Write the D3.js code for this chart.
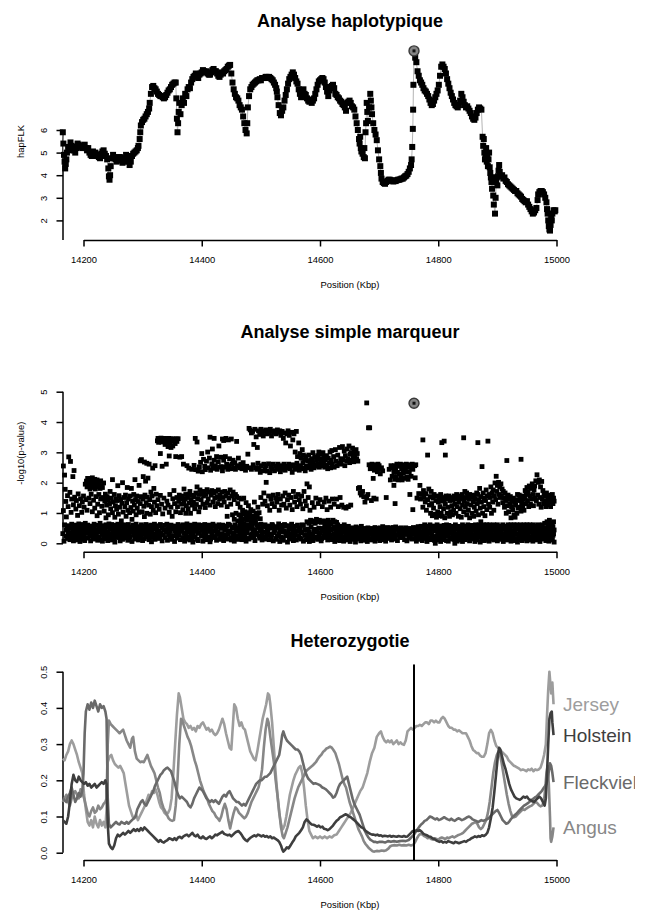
<!DOCTYPE html>
<html>
<head>
<meta charset="utf-8">
<title>hapFLK BTA</title>
<script src="https://cdn.jsdelivr.net/npm/d3@7"></script>
<style>
body { margin: 0; background: #fff; }
</style>
</head>
<body>
<div id="figure"></div>
<script>
var titres = ["Analyse haplotypique", "Analyse simple marqueur", "Heterozygotie"];
var positionTicks = [14200, 14400, 14600, 14800, 15000];
var hapTicks = [2, 3, 4, 5, 6];
var pvalTicks = [0, 1, 2, 3, 4, 5];
var hetTicks = [0, 0.1, 0.2, 0.3, 0.4, 0.5];
var races = ["Jersey", "Holstein", "Fleckvieh", "Angus"];
var couleurs = ["#9d9d9d", "#3e3e3e", "#6a6a6a", "#878787"];
var picPos = 14759; // marqueur le plus significatif

// hapFLK [position Kbp, valeur]
var hapflk = [
[14165,5.9],[14166,5.4],[14167,4.9],[14168,4.6],[14169,4.3],[14170,4.5],[14171,4.7],[14172,5.0],[14174,5.25],[14176,5.1],[14178,5.45],[14180,5.3],[14182,5.25],[14184,5.1],[14186,5.0],[14188,5.2],[14190,5.4],[14192,5.35],[14194,5.25],[14196,5.3],[14198,5.2],
[14200,5.25],[14202,5.35],[14204,5.2],[14206,5.1],[14208,5.2],[14210,5.0],[14212,4.9],[14214,4.85],[14216,5.05],[14218,4.95],[14220,5.0],[14222,4.85],[14224,4.9],[14226,4.8],[14228,4.75],[14230,4.95],[14232,5.05],[14234,5.1],[14236,4.95],[14238,4.85],[14240,4.7],[14242,4.3],[14243,3.95],[14244,3.8],[14245,4.0],[14246,4.4],[14248,4.75],
[14250,4.9],[14252,4.8],[14254,4.7],[14256,4.6],[14258,4.7],[14260,4.8],[14262,4.8],[14264,4.65],[14266,4.55],[14268,4.6],[14270,4.75],[14272,4.9],[14274,4.8],[14276,4.6],[14278,4.45],[14280,4.6],[14282,4.85],[14284,4.95],[14286,5.0],[14288,5.05],[14290,5.1],[14292,5.2],[14293,5.3],[14295,5.6],[14296,5.9],[14297,6.2],[14299,6.35],
[14301,6.45],[14303,6.5],[14305,6.6],[14307,6.7],[14309,6.8],[14311,6.95],[14312,7.2],[14314,7.6],[14316,7.9],[14318,7.95],[14320,7.85],[14322,7.8],[14324,7.7],[14326,7.6],[14328,7.55],[14330,7.5],[14332,7.5],[14334,7.45],[14336,7.4],[14338,7.45],[14340,7.55],[14342,7.65],[14344,7.75],[14346,7.8],[14348,7.9],
[14350,8.0],[14352,8.05],[14354,8.1],[14356,8.1],[14357,7.4],[14358,6.5],[14359,5.9],[14360,6.3],[14361,6.8],[14362,7.2],[14364,6.7],[14366,7.1],[14368,7.4],[14370,7.2],[14372,7.6],[14374,7.5],[14376,7.8],[14378,7.9],[14380,7.85],[14382,8.1],[14384,8.25],[14386,8.35],[14388,8.4],[14390,8.5],[14392,8.4],[14394,8.3],[14396,8.45],[14398,8.5],
[14400,8.55],[14402,8.65],[14404,8.6],[14406,8.55],[14408,8.6],[14410,8.5],[14412,8.45],[14414,8.45],[14416,8.55],[14418,8.65],[14420,8.7],[14422,8.6],[14424,8.6],[14426,8.5],[14428,8.4],[14430,8.35],[14432,8.45],[14434,8.55],[14436,8.5],[14438,8.6],[14440,8.65],[14442,8.7],[14444,8.8],[14446,8.85],[14448,8.88],
[14450,8.5],[14452,8.1],[14454,7.8],[14456,7.6],[14458,7.45],[14460,7.4],[14462,7.3],[14464,7.1],[14466,7.0],[14468,6.9],[14470,6.6],[14472,6.3],[14474,6.0],[14476,5.85],[14477,6.3],[14478,7.0],[14480,7.5],[14482,7.8],[14484,7.9],[14486,8.0],[14488,8.05],[14490,8.1],[14492,8.15],[14494,8.2],[14496,8.2],[14498,8.25],
[14500,8.2],[14502,8.3],[14504,8.3],[14506,8.3],[14508,8.35],[14510,8.35],[14512,8.3],[14514,8.35],[14516,8.3],[14518,8.25],[14520,8.2],[14522,8.1],[14524,8.0],[14526,7.85],[14527,7.7],[14528,7.45],[14530,7.1],[14532,6.75],[14534,6.65],[14536,6.85],[14538,7.0],[14540,7.3],[14542,7.55],[14544,7.8],[14546,8.05],[14548,8.25],
[14550,8.35],[14552,8.45],[14554,8.55],[14556,8.45],[14558,8.3],[14560,8.15],[14562,8.05],[14564,7.8],[14566,7.6],[14568,7.45],[14570,7.7],[14572,7.8],[14574,7.6],[14576,7.55],[14578,7.4],[14580,7.3],[14582,7.25],[14584,7.35],[14586,7.2],[14588,7.3],[14590,7.4],[14592,7.6],[14594,7.8],[14596,8.0],[14598,8.15],
[14600,8.2],[14602,8.25],[14604,8.3],[14606,8.25],[14608,8.1],[14610,7.9],[14612,7.7],[14614,7.5],[14616,7.75],[14618,7.9],[14620,7.95],[14622,8.0],[14624,7.85],[14626,7.6],[14628,7.55],[14630,7.45],[14632,7.4],[14634,7.3],[14636,7.25],[14638,7.15],[14640,7.1],[14642,7.0],[14644,6.85],[14646,7.2],[14648,7.25],
[14650,7.3],[14652,7.2],[14654,7.05],[14656,7.0],[14658,6.9],[14660,6.6],[14662,6.3],[14664,6.0],[14666,5.6],[14667,5.4],[14668,5.7],[14669,5.2],[14670,5.05],[14672,4.95],[14674,4.8],[14675,5.2],[14676,4.75],[14677,5.9],[14678,6.3],[14679,7.2],[14680,6.8],[14681,6.4],[14683,7.0],[14685,7.6],[14686,7.3],[14687,7.0],[14688,6.7],
[14690,6.3],[14692,6.0],[14694,5.8],[14696,5.55],[14698,5.1],[14700,4.7],[14702,4.4],[14703,4.1],[14704,3.85],[14706,3.7],[14708,3.65],[14710,3.62],[14712,3.7],[14714,3.75],[14716,3.8],[14718,3.8],[14720,3.78],[14722,3.75],[14724,3.72],[14726,3.75],[14728,3.74],[14730,3.78],[14732,3.8],[14734,3.8],[14736,3.82],[14738,3.85],
[14740,3.85],[14742,3.9],[14744,3.95],[14746,3.98],[14748,4.05],[14750,4.15],[14752,4.3],[14754,4.45],[14755,4.7],[14756,5.25],[14757,6.05],[14757.5,6.9],[14758,8.0],[14759,9.5],[14761,9.2],[14763,9.0],[14765,8.6],[14767,8.4],[14769,8.2],[14771,8.1],[14773,8.0],[14775,7.85],[14777,7.75],[14779,7.7],
[14781,7.6],[14783,7.5],[14785,7.35],[14787,7.2],[14789,7.1],[14791,7.15],[14793,7.3],[14795,7.45],[14797,7.6],[14799,7.75],[14801,8.0],[14803,8.4],[14805,8.8],[14807,8.9],[14809,8.8],[14811,8.7],[14813,8.5],[14815,8.25],[14817,8.05],[14819,7.85],[14821,7.65],[14823,7.5],[14825,7.35],[14827,7.2],[14829,7.1],
[14831,7.05],[14833,7.0],[14835,7.1],[14837,7.3],[14839,7.6],[14841,7.45],[14843,7.25],[14845,7.1],[14847,7.0],[14849,7.05],[14851,6.95],[14853,6.85],[14855,6.75],[14857,6.6],[14859,6.5],[14861,6.45],[14863,6.55],[14865,6.75],[14867,6.9],[14869,7.0],[14871,6.95],[14873,6.9],[14875,5.7],[14876,5.3],[14877,5.6],
[14878,5.0],[14879,4.7],[14880,4.85],[14881,5.2],[14882,4.6],[14883,4.9],[14884,4.4],[14885,4.7],[14886,5.0],[14887,4.35],[14888,4.1],[14889,3.9],[14890,3.7],[14891,3.4],[14892,3.9],[14893,3.1],[14894,2.7],[14896,2.3],[14897,3.0],[14898,3.7],[14899,3.9],[14900,3.55],[14901,3.95],[14902,4.2],[14903,4.45],[14904,4.15],
[14906,3.95],[14908,4.0],[14910,3.85],[14912,3.9],[14914,3.75],[14916,3.7],[14918,3.6],[14920,3.55],[14922,3.5],[14924,3.45],[14926,3.4],[14928,3.35],[14930,3.3],[14932,3.3],[14934,3.2],[14936,3.15],[14938,3.1],[14940,3.05],[14942,2.95],[14944,2.9],[14946,2.85],[14948,2.8],[14950,2.85],[14952,2.7],[14954,2.6],
[14956,2.5],[14958,2.4],[14960,2.3],[14962,2.35],[14964,2.45],[14966,2.55],[14968,2.9],[14969,3.15],[14971,3.25],[14973,3.3],[14975,3.3],[14977,3.25],[14979,3.15],[14981,3.0],[14983,2.8],[14984,2.5],[14985,2.3],[14986,2.0],[14987,1.75],[14988,1.6],[14989,1.55],[14990,1.8],[14991,2.1],[14992,2.0],[14993,2.3],[14995,2.45],[14997,2.4],[14998,2.45]
];

// -log10(p) par SNP [position Kbp, valeur]
var marqueurs = [
[14165,0.32],[14166,2.55],[14166,1.08],[14167,0.07],[14168,2.25],[14168,0.61],[14169,1.78],[14170,1.38],[14170,0.23],[14171,0.87],[14171,0.44],[14172,0.52],[14173,1.57],[14173,0.16],[14174,0.38],[14174,1.21],
[14175,2.85],[14175,0.58],[14176,0.27],[14177,1.68],[14177,0.12],[14178,2.7],[14178,0.49],[14179,1.02],[14179,0.33],[14180,1.46],[14180,0.63],[14181,0.21],[14182,2.2],[14182,0.41],[14183,1.27],[14183,0.08],[14184,2.4],[14184,0.55],[14185,1.52],[14185,0.29],
[14186,0.18],[14186,0.47],[14187,1.13],[14187,0.36],[14188,1.41],[14188,0.6],[14189,0.11],[14189,0.27],[14190,0.92],[14190,0.52],[14191,1.63],[14191,0.39],[14192,0.64],[14192,0.14],[14193,1.24],[14193,0.31],[14194,0.48],[14194,0.06],[14195,1.47],[14195,0.57],
[14196,0.24],[14196,0.43],[14197,1.02],[14197,0.62],[14198,1.36],[14198,0.13],[14199,0.35],[14199,0.51],[14200,1.56],[14200,0.26],[14201,1.19],[14201,0.58],[14202,0.09],[14202,0.4],[14203,1.95],[14203,0.66],[14204,1.44],[14204,0.19],[14205,2.05],[14205,0.34],
[14206,1.86],[14206,1.09],[14206,0.47],[14207,2.14],[14207,0.6],[14208,1.93],[14208,0.17],[14209,1.49],[14209,0.38],[14210,2.08],[14210,0.53],[14211,1.79],[14211,1.31],[14211,0.25],[14212,2.01],[14212,0.08],[14213,1.62],[14213,0.44],[14214,1.9],[14214,0.57],[14215,2.16],[14215,1.04],[14215,0.3],
[14216,1.84],[14216,0.21],[14217,2.04],[14217,1.42],[14217,0.5],[14218,1.96],[14218,0.63],[14219,2.11],[14219,1.16],[14219,0.36],[14220,1.79],[14220,0.14],[14221,2.02],[14221,1.54],[14221,0.45],[14222,1.89],[14222,0.28],[14223,2.09],[14223,0.91],[14223,0.59],[14224,1.86],[14224,1.29],[14224,0.1],[14225,1.98],[14225,0.4],
[14226,1.61],[14226,0.54],[14226,0.2],[14227,1.94],[14227,1.01],[14227,0.37],[14228,1.81],[14228,0.66],[14229,2.06],[14229,1.46],[14229,0.12],[14230,1.88],[14230,0.49],[14231,1.22],[14231,0.29],[14232,1.84],[14232,0.07],[14232,0.58],[14233,1.51],[14233,0.41],[14234,1.99],[14234,0.24],[14235,1.06],[14235,0.52],
[14236,1.39],[14236,0.46],[14236,0.15],[14237,1.62],[14237,0.33],[14238,0.84],[14238,0.61],[14239,1.26],[14239,0.22],[14240,1.54],[14240,0.55],[14241,0.38],[14241,0.09],[14242,1.44],[14242,0.94],[14243,0.27],[14243,0.64],[14244,1.31],[14244,0.48],[14245,1.71],[14245,0.18],
[14246,1.14],[14246,0.57],[14247,0.31],[14247,1.49],[14248,0.62],[14248,0.11],[14249,2.1],[14249,1.01],[14249,0.43],[14250,0.26],[14250,1.36],[14251,0.16],[14251,0.51],[14252,1.61],[14252,0.37],[14253,0.86],[14253,0.04],[14254,1.24],[14254,0.59],[14255,1.46],[14255,0.23],
[14256,0.47],[14256,1.12],[14257,0.19],[14257,1.41],[14258,1.9],[14258,0.63],[14259,0.34],[14259,0.96],[14260,1.57],[14260,0.53],[14261,0.28],[14261,1.19],[14262,0.08],[14262,0.42],[14263,1.44],[14263,0.6],[14264,0.74],[14264,0.2],[14265,1.32],[14265,0.39],
[14266,2.0],[14266,0.56],[14266,0.13],[14267,1.03],[14267,0.35],[14268,0.46],[14268,1.51],[14269,0.17],[14269,0.61],[14270,1.21],[14270,0.29],[14271,1.59],[14271,0.5],[14272,0.24],[14272,0.89],[14273,1.34],[14273,0.41],[14274,0.58],[14274,1.84],[14275,0.1],[14275,1.09],[14275,0.36],
[14276,0.62],[14276,1.46],[14277,0.31],[14277,0.15],[14278,1.01],[14278,0.45],[14279,1.56],[14279,0.22],[14280,0.54],[14280,1.18],[14281,1.81],[14281,0.37],[14282,0.06],[14282,0.79],[14283,1.39],[14283,0.49],[14284,0.6],[14284,1.06],[14285,0.27],[14285,1.61],
[14286,1.26],[14286,0.57],[14287,2.1],[14287,0.14],[14287,0.4],[14288,1.44],[14288,0.33],[14289,0.94],[14289,0.63],[14290,1.56],[14290,0.2],[14291,1.16],[14291,0.47],[14292,0.55],[14292,1.38],[14293,0.11],[14293,0.36],[14294,1.02],[14294,1.91],[14295,0.52],[14295,0.25],
[14296,2.72],[14296,1.31],[14296,0.43],[14297,0.18],[14297,1.54],[14298,2.76],[14298,0.61],[14299,1.04],[14299,0.3],[14300,0.09],[14300,1.46],[14301,2.2],[14301,0.5],[14302,0.38],[14302,1.22],[14303,2.68],[14303,0.88],[14303,0.15],[14304,1.59],[14304,0.56],[14305,2.05],[14305,0.27],
[14306,1.34],[14306,0.62],[14307,2.64],[14307,0.99],[14307,0.21],[14308,0.44],[14308,1.52],[14309,2.15],[14309,0.33],[14310,0.58],[14310,1.26],[14311,2.61],[14311,0.12],[14312,1.44],[14312,0.49],[14313,0.37],[14313,0.96],[14314,1.69],[14314,0.24],[14315,0.05],[14315,1.21],[14315,0.6],
[14316,0.42],[14316,1.56],[14317,2.48],[14317,0.19],[14318,0.55],[14318,1.09],[14319,1.81],[14319,0.3],[14320,0.63],[14320,1.36],[14321,2.56],[14321,0.13],[14322,0.46],[14322,1.01],[14323,1.62],[14323,0.26],[14324,0.52],[14324,1.24],[14325,3.38],[14325,0.35],
[14326,3.46],[14326,1.44],[14326,0.58],[14327,3.33],[14327,0.16],[14328,3.44],[14328,1.12],[14328,0.41],[14329,3.39],[14329,0.22],[14330,2.96],[14330,1.58],[14330,0.62],[14331,3.47],[14331,0.33],[14332,3.34],[14332,1.29],[14333,2.54],[14333,0.5],[14333,0.08],[14334,3.41],[14334,0.97],[14335,3.45],[14335,0.27],
[14336,3.36],[14336,1.49],[14336,0.45],[14337,3.46],[14337,0.59],[14338,3.26],[14338,1.16],[14338,0.19],[14339,3.41],[14339,0.36],[14340,2.61],[14340,3.44],[14341,1.39],[14341,0.63],[14342,3.33],[14342,0.1],[14343,3.19],[14343,1.26],[14343,0.47],[14344,3.46],[14344,0.29],[14345,2.88],[14345,1.02],[14345,3.39],[14345,0.54],
[14346,3.31],[14346,1.61],[14346,0.21],[14347,3.44],[14347,0.39],[14348,3.16],[14348,1.19],[14348,0.6],[14349,3.42],[14349,0.13],[14350,3.36],[14350,0.89],[14350,0.48],[14351,3.21],[14351,1.47],[14352,3.45],[14352,0.25],[14353,1.74],[14353,0.57],[14354,3.39],[14354,1.31],[14354,0.06],[14355,0.42],[14355,3.29],
[14356,1.04],[14356,2.86],[14356,0.31],[14357,3.44],[14357,0.55],[14358,1.51],[14358,3.36],[14358,0.17],[14359,0.44],[14359,1.21],[14360,3.45],[14360,0.62],[14361,1.38],[14361,0.27],[14362,0.36],[14362,1.59],[14363,2.84],[14363,0.51],[14364,1.01],[14364,0.12],[14365,1.46],[14365,0.4],
[14366,2.86],[14366,1.29],[14366,0.58],[14367,0.46],[14367,1.56],[14368,0.19],[14368,1.11],[14369,2.61],[14369,0.61],[14370,1.34],[14370,1.79],[14370,0.33],[14371,0.07],[14372,1.46],[14372,0.52],[14373,1.61],[14373,0.99],[14373,0.26],[14374,0.14],[14374,1.24],[14375,0.42],[14375,2.56],[14375,0.64],
[14376,1.51],[14376,0.57],[14377,1.14],[14377,0.22],[14378,1.62],[14378,2.48],[14378,0.37],[14379,0.46],[14379,1.33],[14380,1.71],[14380,0.11],[14381,0.99],[14381,0.6],[14382,1.44],[14382,0.29],[14383,2.44],[14383,0.17],[14384,1.26],[14384,1.58],[14384,0.5],[14385,0.38],[14385,0.04],
[14386,1.36],[14386,0.31],[14387,1.54],[14387,2.57],[14387,0.56],[14388,0.63],[14388,1.14],[14389,3.46],[14389,0.2],[14390,1.66],[14390,2.43],[14390,0.41],[14391,0.47],[14391,1.28],[14392,3.34],[14392,1.86],[14392,0.13],[14393,0.54],[14393,1.46],[14394,2.38],[14394,0.09],[14394,0.35],[14395,1.04],[14395,1.61],[14395,0.61],
[14396,2.52],[14396,0.33],[14397,1.76],[14397,1.19],[14397,0.49],[14398,0.59],[14398,2.67],[14399,1.44],[14399,0.24],[14400,2.96],[14400,1.64],[14400,0.44],[14401,0.52],[14401,2.36],[14402,1.29],[14402,0.07],[14403,1.56],[14403,2.77],[14403,0.3],[14404,0.45],[14404,1.71],[14405,2.54],[14405,0.62],[14405,0.16],
[14406,1.18],[14406,2.43],[14406,0.37],[14407,0.28],[14407,1.61],[14408,2.71],[14408,0.55],[14409,1.77],[14409,1.34],[14409,0.12],[14410,3.01],[14410,0.21],[14411,2.49],[14411,1.46],[14411,0.47],[14412,0.6],[14412,1.69],[14413,2.81],[14413,0.39],[14414,3.5],[14414,1.26],[14414,0.05],[14415,2.41],[14415,0.14],[14415,0.51],
[14416,1.59],[14416,0.48],[14417,2.62],[14417,1.74],[14417,0.27],[14418,3.11],[14418,0.33],[14419,1.36],[14419,2.47],[14419,0.63],[14420,0.58],[14420,1.66],[14421,3.46],[14421,2.74],[14421,0.19],[14422,1.49],[14422,0.22],[14423,2.56],[14423,1.21],[14423,0.42],[14424,0.45],[14424,1.71],[14425,2.86],[14425,0.53],[14425,0.1],
[14426,1.54],[14426,2.44],[14426,0.3],[14427,0.36],[14427,1.31],[14428,2.69],[14428,1.76],[14428,0.57],[14429,0.61],[14429,3.21],[14430,1.46],[14430,2.51],[14430,0.16],[14431,0.13],[14431,1.59],[14432,2.84],[14432,0.49],[14433,1.26],[14433,2.53],[14433,0.25],[14434,1.69],[14434,0.32],[14435,3.44],[14435,2.39],[14435,0.6],
[14436,1.51],[14436,0.59],[14437,2.74],[14437,3.39],[14437,0.09],[14438,1.36],[14438,0.21],[14439,2.51],[14439,1.71],[14439,0.43],[14440,0.46],[14440,2.86],[14441,1.56],[14441,3.46],[14441,0.28],[14442,0.56],[14442,2.61],[14443,1.21],[14443,0.89],[14443,0.14],[14444,2.44],[14444,1.66],[14445,0.31],[14445,3.41],[14445,0.63],
[14446,2.56],[14446,1.49],[14446,0.4],[14447,0.6],[14447,2.79],[14448,1.76],[14448,0.37],[14449,2.46],[14449,1.29],[14449,0.18],[14450,3.44],[14450,0.11],[14451,2.61],[14451,1.56],[14451,0.5],[14452,0.54],[14452,0.94],[14453,2.74],[14453,1.69],[14453,0.26],[14454,0.34],[14454,2.49],[14455,1.44],[14455,0.79],[14455,0.07],
[14456,2.66],[14456,0.61],[14456,0.21],[14457,1.61],[14457,2.44],[14458,0.24],[14458,0.99],[14458,0.47],[14459,3.36],[14459,1.54],[14460,0.51],[14460,2.56],[14461,1.31],[14461,0.74],[14461,0.13],[14462,2.81],[14462,0.39],[14463,1.49],[14463,0.94],[14464,2.49],[14464,0.16],[14464,0.57],[14465,1.19],[14465,0.66],[14465,0.3],
[14466,2.61],[14466,0.84],[14466,0.44],[14467,1.46],[14467,0.29],[14468,0.71],[14468,2.46],[14468,0.12],[14469,1.09],[14469,0.56],[14470,0.96],[14470,2.66],[14470,0.35],[14471,0.19],[14471,1.49],[14471,0.64],[14472,0.79],[14472,2.51],[14473,0.46],[14473,1.04],[14473,0.23],[14474,2.41],[14474,0.61],[14475,0.91],[14475,1.34],[14475,0.07],
[14476,0.76],[14476,2.54],[14476,0.4],[14477,0.34],[14477,1.01],[14478,2.94],[14478,0.59],[14478,0.16],[14479,0.86],[14479,1.24],[14480,3.79],[14480,0.14],[14480,0.49],[14481,2.49],[14481,0.96],[14482,3.74],[14482,0.51],[14483,1.11],[14483,0.69],[14483,0.27],[14484,3.64],[14484,2.44],[14484,0.82],[14485,0.31],[14485,0.89],[14485,0.58],
[14486,3.69],[14486,0.66],[14486,0.19],[14487,1.06],[14487,2.59],[14487,0.44],[14488,3.26],[14488,0.21],[14488,0.76],[14489,0.86],[14489,1.36],[14490,3.76],[14490,0.45],[14490,0.09],[14491,2.49],[14491,0.74],[14492,3.51],[14492,0.99],[14492,0.34],[14493,0.61],[14493,2.44],[14494,3.16],[14494,0.29],[14494,0.87],[14495,1.19],[14495,2.64],[14495,0.52],
[14496,3.71],[14496,0.56],[14497,2.49],[14497,1.01],[14497,0.24],[14498,3.59],[14498,0.17],[14499,2.34],[14499,0.81],[14499,0.42],[14500,3.76],[14500,1.51],[14500,0.63],[14501,0.46],[14501,2.56],[14502,3.66],[14502,0.11],[14502,0.32],[14503,2.39],[14503,1.29],[14504,3.54],[14504,0.59],[14505,2.61],[14505,1.66],[14505,0.2],
[14506,3.69],[14506,0.36],[14507,2.44],[14507,1.39],[14507,0.61],[14508,3.74],[14508,0.53],[14509,2.56],[14509,2.01],[14509,0.14],[14510,3.61],[14510,0.26],[14511,2.38],[14511,1.24],[14511,0.47],[14512,3.71],[14512,0.41],[14513,2.62],[14513,1.56],[14514,3.64],[14514,0.12],[14514,0.57],[14515,2.33],[14515,1.09],[14515,0.3],
[14516,3.76],[14516,0.5],[14517,2.51],[14517,1.46],[14517,0.19],[14518,3.54],[14518,0.27],[14519,2.46],[14519,1.31],[14519,0.62],[14520,3.69],[14520,0.58],[14521,2.61],[14521,1.59],[14521,0.08],[14522,3.66],[14522,0.34],[14523,2.39],[14523,1.21],[14523,0.46],[14524,3.71],[14524,0.43],[14525,2.54],[14525,1.49],[14525,0.16],
[14526,3.61],[14526,0.13],[14526,0.55],[14527,2.44],[14527,1.36],[14528,3.74],[14528,0.52],[14528,0.24],[14529,2.61],[14529,1.61],[14530,3.66],[14530,0.31],[14530,0.64],[14531,2.49],[14531,1.09],[14532,3.71],[14532,0.45],[14532,0.06],[14533,2.36],[14533,1.46],[14534,3.56],[14534,0.21],[14535,2.56],[14535,1.26],[14535,0.59],
[14536,3.69],[14536,0.49],[14537,2.44],[14537,1.56],[14537,0.18],[14538,3.46],[14538,0.1],[14538,0.38],[14539,2.61],[14539,1.29],[14540,3.64],[14540,0.41],[14540,0.62],[14541,2.41],[14541,1.66],[14542,3.31],[14542,0.57],[14542,0.25],[14543,2.54],[14543,1.16],[14544,3.61],[14544,0.27],[14545,2.49],[14545,1.44],[14545,0.04],
[14546,3.71],[14546,0.35],[14546,0.58],[14547,2.61],[14547,1.59],[14548,3.56],[14548,0.14],[14548,0.47],[14549,2.46],[14549,1.26],[14550,3.21],[14550,0.51],[14550,0.22],[14551,2.56],[14551,1.51],[14552,3.66],[14552,0.31],[14552,0.63],[14553,2.34],[14553,1.11],[14554,3.41],[14554,0.44],[14555,2.59],[14555,1.71],[14555,0.09],
[14556,3.61],[14556,0.19],[14556,0.53],[14557,2.49],[14557,1.36],[14558,3.01],[14558,0.56],[14558,0.28],[14559,2.44],[14559,1.54],[14560,3.69],[14560,0.11],[14560,0.41],[14561,2.64],[14561,1.21],[14562,2.86],[14562,0.39],[14562,0.6],[14563,2.51],[14563,1.61],[14564,3.31],[14564,0.24],[14565,2.41],[14565,1.44],[14565,0.49],
[14566,2.96],[14566,0.51],[14566,0.17],[14567,2.56],[14567,1.29],[14568,2.81],[14568,0.14],[14568,0.36],[14569,2.46],[14569,1.56],[14570,3.09],[14570,0.34],[14570,0.61],[14571,2.66],[14571,1.14],[14572,2.91],[14572,0.59],[14572,0.07],[14573,2.49],[14573,1.71],[14574,2.76],[14574,0.26],[14574,0.45],[14575,2.39],[14575,1.39],
[14576,2.86],[14576,0.44],[14576,0.12],[14577,2.54],[14577,1.24],[14578,1.96],[14578,0.71],[14578,0.29],[14579,2.71],[14579,0.19],[14580,2.49],[14580,1.51],[14580,0.47],[14581,2.91],[14581,0.66],[14582,1.86],[14582,0.36],[14582,0.06],[14583,2.61],[14583,1.09],[14584,2.74],[14584,0.76],[14584,0.25],[14585,2.44],[14585,0.14],[14585,0.53],
[14586,2.79],[14586,0.69],[14586,0.31],[14587,2.56],[14587,1.34],[14588,2.99],[14588,0.29],[14588,0.09],[14589,2.66],[14589,0.74],[14590,2.49],[14590,1.19],[14590,0.43],[14591,2.84],[14591,0.46],[14592,2.59],[14592,0.66],[14592,0.17],[14593,1.49],[14593,0.21],[14594,2.76],[14594,0.79],[14594,0.38],[14595,2.54],[14595,0.41],
[14596,2.89],[14596,0.71],[14596,0.13],[14597,2.61],[14597,1.31],[14598,3.01],[14598,0.26],[14598,0.5],[14599,2.51],[14599,0.76],[14600,2.79],[14600,1.44],[14600,0.33],[14601,2.64],[14601,0.49],[14602,2.94],[14602,0.69],[14602,0.08],[14603,2.56],[14603,0.16],[14604,2.71],[14604,1.21],[14604,0.39],[14605,2.99],[14605,0.46],
[14606,2.61],[14606,0.74],[14606,0.23],[14607,2.84],[14607,1.36],[14608,2.51],[14608,0.31],[14608,0.55],[14609,2.76],[14609,0.64],[14610,1.49],[14610,0.19],[14611,2.89],[14611,0.71],[14611,0.41],[14612,2.59],[14612,1.11],[14613,0.49],[14613,2.46],[14613,0.11],[14614,0.76],[14614,2.81],[14615,0.34],[14615,1.39],[14615,0.57],
[14616,2.66],[14616,0.69],[14616,0.2],[14617,3.01],[14617,0.26],[14618,2.49],[14618,1.19],[14618,0.44],[14619,0.64],[14619,2.74],[14620,3.06],[14620,0.46],[14620,0.12],[14621,2.61],[14621,1.46],[14622,0.76],[14622,0.16],[14623,2.86],[14623,0.54],[14623,0.31],[14624,1.29],[14624,2.51],[14625,0.71],[14625,0.29],[14625,0.06],
[14626,3.09],[14626,0.51],[14627,2.71],[14627,0.21],[14627,0.38],[14628,1.46],[14628,0.69],[14629,2.56],[14629,0.41],[14629,0.1],[14630,2.91],[14630,0.61],[14631,1.21],[14631,0.24],[14632,2.64],[14632,0.49],[14632,0.14],[14633,3.16],[14633,0.36],[14634,1.51],[14634,0.09],[14634,0.56],[14635,2.79],[14635,0.44],
[14636,2.61],[14636,0.31],[14637,1.26],[14637,0.54],[14637,0.17],[14638,3.19],[14638,0.21],[14639,2.76],[14639,0.46],[14640,1.19],[14640,0.36],[14640,0.07],[14641,3.04],[14641,0.61],[14642,2.56],[14642,0.14],[14642,0.42],[14643,2.89],[14643,0.39],[14644,1.16],[14644,0.51],[14644,0.27],[14645,2.71],[14645,0.24],
[14646,3.11],[14646,0.46],[14647,2.79],[14647,0.29],[14647,0.11],[14648,1.21],[14648,0.56],[14649,3.21],[14649,0.19],[14649,0.37],[14650,2.66],[14650,0.41],[14651,2.94],[14651,0.49],[14651,0.06],[14652,1.26],[14652,0.16],[14653,2.99],[14653,0.34],[14654,2.74],[14654,0.51],[14654,0.23],[14655,3.14],[14655,0.26],
[14656,2.84],[14656,0.44],[14657,2.69],[14657,0.31],[14657,0.13],[14658,3.04],[14658,0.49],[14659,2.91],[14659,0.21],[14660,2.76],[14660,0.39],[14660,0.04],[14661,3.09],[14661,0.54],[14662,2.79],[14662,0.29],[14663,0.14],[14663,2.96],[14664,0.46],[14664,2.71],[14664,0.22],[14665,0.36],[14665,1.81],
[14666,0.51],[14666,0.19],[14667,1.84],[14667,0.33],[14668,0.41],[14668,1.66],[14669,0.28],[14669,0.08],[14670,0.56],[14670,1.59],[14671,0.24],[14672,0.46],[14672,1.71],[14673,0.34],[14673,0.12],[14674,0.16],[14674,1.54],[14675,0.49],[14675,0.27],
[14676,0.31],[14676,1.36],[14677,0.44],[14677,0.1],[14678,0.21],[14679,4.63],[14679,1.49],[14679,0.39],[14680,0.29],[14680,0.06],[14681,1.61],[14681,0.51],[14682,3.81],[14682,0.24],[14683,2.59],[14683,0.43],[14684,3.81],[14684,0.37],[14685,2.46],[14685,0.14],
[14686,2.56],[14686,0.49],[14687,1.41],[14687,0.31],[14687,0.11],[14688,2.61],[14688,0.41],[14689,2.49],[14689,0.23],[14690,2.14],[14690,0.46],[14691,2.54],[14691,1.49],[14691,0.19],[14692,0.36],[14692,2.41],[14693,0.52],[14693,0.07],[14694,2.59],[14694,0.29],[14695,1.46],[14695,0.4],
[14696,2.51],[14696,0.49],[14696,0.15],[14697,2.36],[14697,0.31],[14698,2.61],[14698,0.42],[14699,2.44],[14699,0.22],[14700,2.56],[14700,0.46],[14701,0.29],[14701,0.09],[14702,2.29],[14702,0.51],[14703,0.36],[14703,0.18],[14704,2.49],[14705,0.41],[14705,0.26],
[14706,0.55],[14706,2.39],[14707,0.31],[14707,0.12],[14708,0.44],[14709,0.21],[14709,0.38],[14710,0.49],[14711,0.34],[14711,0.07],[14712,1.51],[14712,0.27],[14713,0.41],[14714,0.24],[14714,0.52],[14715,0.46],[14715,0.16],
[14716,0.31],[14717,2.44],[14717,0.46],[14718,0.19],[14718,0.36],[14719,2.09],[14720,0.51],[14720,2.56],[14721,0.34],[14721,0.11],[14722,2.21],[14723,0.44],[14723,2.49],[14724,0.29],[14724,0.52],[14725,2.34],[14725,1.91],[14725,0.21],
[14726,2.56],[14726,0.39],[14727,2.11],[14727,1.31],[14727,0.14],[14728,2.44],[14728,0.54],[14729,2.19],[14729,0.26],[14730,2.61],[14730,0.46],[14731,2.34],[14731,0.09],[14732,2.09],[14732,0.49],[14733,2.54],[14733,0.31],[14734,0.36],[14734,2.29],[14735,0.41],[14735,0.19],
[14736,2.61],[14736,0.24],[14737,2.21],[14737,0.51],[14738,2.46],[14738,0.33],[14739,2.09],[14739,0.41],[14740,2.56],[14740,0.19],[14741,2.31],[14741,0.48],[14742,2.59],[14742,0.44],[14743,2.14],[14743,0.12],[14744,2.49],[14744,0.29],[14745,2.36],[14745,0.51],
[14746,2.61],[14746,0.39],[14747,2.19],[14747,0.08],[14748,2.51],[14748,0.31],[14749,2.11],[14749,0.46],[14750,2.54],[14750,0.49],[14751,2.36],[14751,0.19],[14752,1.61],[14752,2.59],[14753,0.44],[14753,0.27],[14754,2.21],[14754,0.34],[14755,2.49],[14755,0.14],
[14756,2.61],[14756,0.46],[14757,1.11],[14757,2.44],[14758,0.29],[14758,0.52],[14759,4.62],[14760,2.56],[14760,0.49],[14761,2.16],[14761,0.36],[14762,2.59],[14762,0.19],[14763,0.51],[14763,0.07],[14764,1.49],[14765,0.39],[14765,0.24],
[14766,0.31],[14766,0.55],[14767,1.64],[14768,0.44],[14768,0.13],[14769,1.91],[14770,0.21],[14770,1.46],[14771,0.56],[14771,0.34],[14772,1.61],[14773,0.36],[14773,0.09],[14774,3.41],[14774,1.19],[14775,0.49],[14775,1.74],[14775,0.27],
[14776,0.24],[14776,1.51],[14777,0.61],[14777,0.4],[14778,1.36],[14778,0.16],[14779,1.64],[14779,0.53],[14780,0.46],[14780,1.09],[14781,0.29],[14781,0.06],[14782,2.91],[14782,1.44],[14783,0.56],[14783,0.33],[14784,1.79],[14784,0.19],[14785,1.26],[14785,0.41],
[14786,1.54],[14786,0.61],[14787,0.36],[14787,0.99],[14787,0.12],[14788,1.71],[14788,0.49],[14789,1.31],[14789,0.26],[14790,0.91],[14790,0.55],[14791,1.49],[14791,0.17],[14792,0.57],[14792,1.16],[14793,0.21],[14793,1.61],[14794,0.41],[14794,0.09],[14795,0.0],[14795,0.96],[14795,0.46],
[14796,1.41],[14796,0.51],[14797,0.86],[14797,0.24],[14798,1.56],[14798,0.61],[14799,1.04],[14799,0.37],[14800,0.34],[14800,1.36],[14800,0.11],[14801,0.16],[14801,0.91],[14802,1.49],[14802,0.46],[14803,1.21],[14803,0.29],[14803,0.57],[14804,1.61],[14804,0.06],[14805,0.54],[14805,0.99],[14805,0.21],
[14806,3.32],[14806,1.39],[14806,0.44],[14807,0.31],[14807,0.89],[14808,1.51],[14808,0.49],[14808,0.12],[14809,1.14],[14809,0.21],[14810,3.37],[14810,1.44],[14810,0.59],[14811,0.46],[14811,0.84],[14812,2.91],[14812,1.29],[14812,0.27],[14813,0.36],[14813,1.56],[14814,0.61],[14814,0.09],[14815,0.99],[14815,0.24],[14815,0.41],
[14816,1.46],[14816,0.51],[14817,1.19],[14817,0.29],[14817,0.07],[14818,1.56],[14818,0.59],[14819,0.89],[14819,0.39],[14820,1.41],[14820,0.14],[14821,1.04],[14821,0.46],[14822,1.51],[14822,0.34],[14822,0.19],[14823,1.24],[14823,0.56],[14824,0.54],[14824,0.94],[14825,1.44],[14825,0.21],[14825,0.37],
[14826,1.09],[14826,0.49],[14827,1.56],[14827,0.34],[14827,0.13],[14828,0.0],[14828,1.29],[14829,0.61],[14829,1.46],[14829,0.24],[14830,0.26],[14830,0.99],[14831,1.61],[14831,0.46],[14832,1.21],[14832,0.07],[14833,0.31],[14833,1.49],[14834,0.56],[14834,0.89],[14834,0.17],[14835,1.36],[14835,0.41],
[14836,0.39],[14836,1.56],[14836,0.11],[14837,1.14],[14837,0.21],[14838,1.46],[14838,0.51],[14839,0.86],[14839,0.29],[14840,1.61],[14840,0.36],[14841,1.26],[14841,0.61],[14841,0.06],[14842,1.49],[14842,0.16],[14843,3.48],[14843,1.04],[14843,0.44],[14844,0.46],[14844,1.39],[14845,0.29],[14845,1.71],[14845,0.54],
[14846,0.56],[14846,1.21],[14846,0.12],[14847,1.51],[14847,0.24],[14848,0.94],[14848,1.66],[14848,0.37],[14849,0.41],[14849,1.31],[14850,0.61],[14850,1.54],[14850,0.19],[14851,0.21],[14851,1.09],[14852,1.46],[14852,0.46],[14853,0.84],[14853,1.61],[14853,0.08],[14854,0.34],[14854,0.52],[14855,1.26],[14855,0.56],[14855,0.27],
[14856,1.51],[14856,0.31],[14857,0.99],[14857,0.59],[14857,0.14],[14858,1.59],[14858,0.16],[14859,1.36],[14859,0.44],[14860,0.89],[14860,1.56],[14860,0.26],[14861,0.51],[14861,1.19],[14862,0.24],[14862,1.46],[14862,0.06],[14863,0.61],[14863,0.39],[14864,1.06],[14864,0.41],[14865,1.66],[14865,0.19],[14865,0.54],
[14866,1.31],[14866,0.49],[14866,0.11],[14867,3.32],[14867,1.61],[14868,0.34],[14868,0.94],[14869,1.44],[14869,0.61],[14869,0.2],[14870,1.81],[14870,0.21],[14871,1.16],[14871,0.46],[14871,0.04],[14872,1.54],[14872,0.71],[14873,0.29],[14873,1.36],[14874,2.53],[14874,0.56],[14874,0.15],[14875,0.99],[14875,0.41],
[14876,1.66],[14876,0.26],[14876,0.52],[14877,1.21],[14877,0.61],[14878,1.49],[14878,0.34],[14878,0.09],[14879,0.91],[14879,0.56],[14880,1.41],[14880,0.21],[14880,0.44],[14881,1.76],[14881,0.46],[14882,1.11],[14882,0.61],[14882,0.13],[14883,1.56],[14883,0.31],[14884,3.37],[14884,0.51],[14884,0.24],[14885,1.29],[14885,0.16],[14885,0.39],
[14886,1.61],[14886,0.44],[14886,0.07],[14887,1.19],[14887,0.61],[14888,1.51],[14888,0.26],[14888,0.39],[14889,1.86],[14889,0.51],[14890,0.99],[14890,0.34],[14890,0.14],[14891,1.66],[14891,0.56],[14892,1.36],[14892,0.21],[14892,0.46],[14893,1.76],[14893,0.44],[14894,1.09],[14894,0.61],[14894,0.11],[14895,1.56],[14895,0.29],[14895,0.49],
[14896,1.99],[14896,0.51],[14896,0.19],[14897,1.44],[14897,0.21],[14898,2.21],[14898,0.56],[14898,0.36],[14899,1.71],[14899,0.34],[14900,1.91],[14900,0.61],[14900,0.08],[14901,1.29],[14901,0.44],[14902,2.01],[14902,0.24],[14902,0.53],[14903,1.61],[14903,0.49],[14904,1.86],[14904,0.29],[14904,0.13],[14905,1.51],[14905,0.56],
[14906,1.96],[14906,0.41],[14906,0.16],[14907,1.56],[14907,0.21],[14908,1.79],[14908,0.49],[14908,0.31],[14909,1.34],[14909,0.61],[14910,1.71],[14910,0.29],[14910,0.06],[14911,1.49],[14911,0.46],[14912,1.19],[14912,0.14],[14912,0.54],[14913,1.66],[14913,0.56],[14914,1.41],[14914,0.34],[14914,0.21],[14915,0.99],[14915,0.49],
[14916,2.73],[14916,1.51],[14916,0.36],[14917,0.41],[14917,1.24],[14917,0.11],[14918,0.61],[14918,1.59],[14919,0.26],[14919,1.04],[14919,0.47],[14920,1.46],[14920,0.51],[14921,1.31],[14921,0.19],[14921,0.39],[14922,1.54],[14922,0.46],[14923,0.84],[14923,0.61],[14923,0.07],[14924,1.21],[14924,0.29],[14925,1.39],[14925,0.56],[14925,0.16],
[14926,1.11],[14926,0.41],[14926,0.24],[14927,1.49],[14927,0.19],[14928,0.94],[14928,0.61],[14928,0.34],[14929,1.36],[14929,0.36],[14930,0.86],[14930,0.51],[14930,0.09],[14931,1.26],[14931,0.14],[14932,1.44],[14932,0.46],[14932,0.29],[14933,0.99],[14933,0.61],[14934,1.61],[14934,0.31],[14934,0.04],[14935,1.16],[14935,0.49],
[14936,1.41],[14936,0.26],[14936,0.53],[14937,1.59],[14937,0.56],[14937,0.12],[14938,1.19],[14938,0.41],[14939,1.49],[14939,0.61],[14939,0.21],[14940,2.77],[14940,1.06],[14940,0.36],[14941,0.31],[14941,1.34],[14942,0.51],[14942,1.56],[14942,0.09],[14943,0.19],[14943,1.24],[14944,0.44],[14944,1.46],[14944,0.27],[14945,0.61],[14945,1.09],
[14946,1.51],[14946,0.34],[14946,0.14],[14947,1.74],[14947,0.56],[14948,1.31],[14948,0.21],[14948,0.44],[14949,1.61],[14949,0.46],[14950,1.84],[14950,0.61],[14950,0.08],[14951,1.41],[14951,0.31],[14952,1.69],[14952,0.51],[14952,0.24],[14953,1.21],[14953,0.16],[14954,1.89],[14954,0.39],[14954,0.58],[14955,1.56],[14955,0.61],[14955,0.11],
[14956,1.29],[14956,0.36],[14956,0.19],[14957,1.81],[14957,0.54],[14958,1.46],[14958,0.21],[14958,0.41],[14959,1.96],[14959,0.51],[14960,1.61],[14960,0.29],[14960,0.07],[14961,1.24],[14961,0.61],[14962,1.76],[14962,0.46],[14962,0.26],[14963,1.89],[14963,0.14],[14964,1.49],[14964,0.41],[14964,0.56],[14965,2.06],[14965,0.56],[14965,0.31],
[14966,1.41],[14966,0.31],[14966,0.11],[14967,2.26],[14967,0.51],[14968,1.59],[14968,0.21],[14968,0.44],[14969,2.01],[14969,0.61],[14970,1.29],[14970,0.46],[14970,0.16],[14971,2.09],[14971,0.36],[14972,1.51],[14972,0.56],[14972,0.06],[14973,1.86],[14973,0.26],[14974,1.19],[14974,0.51],[14974,0.39],[14975,2.04],[14975,0.41],[14975,0.21],
[14976,1.46],[14976,0.61],[14976,0.14],[14977,1.74],[14977,0.31],[14978,1.31],[14978,0.49],[14978,0.24],[14979,1.61],[14979,0.19],[14980,1.39],[14980,0.66],[14980,0.41],[14981,1.56],[14981,0.36],[14982,1.21],[14982,0.51],[14982,0.09],[14983,1.66],[14983,0.26],[14984,1.34],[14984,0.71],[14984,0.46],[14985,1.49],[14985,0.39],[14985,0.16],
[14986,1.26],[14986,0.61],[14986,0.29],[14987,1.59],[14987,0.31],[14987,0.07],[14988,1.41],[14988,0.76],[14988,0.49],[14989,1.51],[14989,0.51],[14989,0.21],[14990,1.21],[14990,0.19],[14990,0.66],[14991,1.46],[14991,0.64],[14991,0.36],[14992,1.36],[14992,0.41],[14992,0.12],[14993,1.61],[14993,0.11],[14993,0.56],[14994,1.31],[14994,0.54],[14994,0.26],[14995,1.49],[14995,0.31],[14995,0.71],[14996,1.39],[14996,0.04],[14996,0.44]
];

// heterozygotie par race [position Kbp, valeur]
var hetJersey = [
[14165,0.26],[14168,0.255],[14171,0.27],[14174,0.28],[14177,0.3],[14180,0.31],[14183,0.3],[14186,0.285],[14189,0.27],[14192,0.25],[14195,0.235],[14198,0.22],[14201,0.16],[14204,0.12],[14207,0.085],[14210,0.075],[14213,0.09],[14216,0.07],[14219,0.1],[14222,0.08],[14225,0.07],[14228,0.09],[14231,0.075],[14234,0.085],[14237,0.07],[14239,0.12],
[14241,0.25],[14244,0.265],[14247,0.27],[14250,0.255],[14253,0.245],[14256,0.24],[14259,0.235],[14262,0.24],[14265,0.23],[14268,0.22],[14271,0.19],[14274,0.16],[14277,0.13],[14280,0.115],[14283,0.1],[14286,0.095],[14289,0.105],[14292,0.09],[14295,0.1],[14298,0.11],
[14301,0.12],[14304,0.13],[14307,0.145],[14310,0.16],[14313,0.155],[14316,0.17],[14319,0.165],[14322,0.175],[14325,0.16],[14328,0.14],[14331,0.125],[14334,0.12],[14337,0.11],[14340,0.105],[14343,0.11],[14346,0.12],[14349,0.15],[14352,0.22],[14355,0.3],[14358,0.38],[14361,0.44],[14363,0.43],[14366,0.4],[14369,0.37],
[14372,0.36],[14375,0.355],[14378,0.345],[14381,0.35],[14384,0.34],[14387,0.345],[14390,0.335],[14393,0.35],[14396,0.345],[14399,0.355],[14402,0.36],[14405,0.35],[14408,0.34],[14411,0.345],[14414,0.335],[14417,0.34],[14420,0.33],[14423,0.325],[14426,0.33],[14429,0.34],[14432,0.355],[14435,0.37],[14438,0.355],
[14441,0.33],[14444,0.31],[14447,0.29],[14450,0.285],[14453,0.36],[14455,0.41],[14458,0.4],[14461,0.37],[14464,0.35],[14467,0.36],[14470,0.345],[14473,0.34],[14476,0.32],[14479,0.3],[14482,0.28],[14485,0.27],[14488,0.26],[14491,0.255],[14494,0.28],[14497,0.31],[14500,0.34],[14503,0.37],[14506,0.39],[14509,0.41],
[14512,0.44],[14514,0.435],[14516,0.41],[14519,0.36],[14522,0.29],[14525,0.22],[14528,0.16],[14531,0.11],[14534,0.08],[14537,0.065],[14540,0.075],[14543,0.1],[14546,0.13],[14549,0.16],[14552,0.18],[14555,0.2],[14558,0.215],[14561,0.225],[14564,0.235],[14567,0.24],[14570,0.22],[14573,0.18],[14576,0.13],[14579,0.09],
[14582,0.06],[14585,0.05],[14588,0.04],[14592,0.045],[14596,0.04],[14600,0.045],[14604,0.04],[14608,0.045],[14612,0.04],[14616,0.045],[14620,0.042],[14624,0.048],[14628,0.05],[14632,0.06],[14636,0.07],[14640,0.08],[14644,0.09],[14648,0.1],[14652,0.11],[14656,0.125],[14660,0.14],[14664,0.155],[14668,0.17],
[14672,0.18],[14676,0.2],[14680,0.22],[14684,0.25],[14688,0.275],[14692,0.29],[14696,0.32],[14700,0.33],[14703,0.335],[14706,0.32],[14709,0.31],[14712,0.305],[14715,0.31],[14718,0.305],[14721,0.31],[14724,0.3],[14727,0.305],[14730,0.31],[14733,0.3],[14736,0.305],[14739,0.3],[14742,0.298],[14745,0.31],[14748,0.335],
[14751,0.34],[14754,0.345],[14757,0.34],[14760,0.345],[14763,0.35],[14766,0.35],[14769,0.353],[14772,0.35],[14775,0.355],[14778,0.36],[14781,0.36],[14784,0.355],[14787,0.365],[14790,0.365],[14793,0.36],[14796,0.365],[14799,0.36],[14802,0.36],[14805,0.37],[14808,0.375],[14811,0.37],[14814,0.36],[14817,0.35],
[14820,0.345],[14823,0.345],[14826,0.34],[14829,0.34],[14832,0.335],[14835,0.338],[14838,0.334],[14841,0.33],[14844,0.33],[14847,0.33],[14850,0.32],[14853,0.31],[14856,0.295],[14859,0.284],[14862,0.28],[14865,0.275],[14868,0.275],[14871,0.268],[14874,0.265],[14877,0.265],[14880,0.275],[14883,0.3],[14886,0.33],
[14889,0.339],[14892,0.33],[14895,0.31],[14898,0.295],[14901,0.29],[14904,0.285],[14907,0.28],[14910,0.275],[14913,0.27],[14916,0.265],[14919,0.255],[14922,0.25],[14925,0.245],[14928,0.24],[14931,0.238],[14934,0.235],[14937,0.232],[14940,0.228],[14943,0.23],[14946,0.228],[14949,0.225],[14952,0.23],[14955,0.228],
[14958,0.232],[14961,0.225],[14964,0.23],[14967,0.228],[14970,0.23],[14973,0.235],[14976,0.25],[14979,0.27],[14982,0.3],[14984,0.38],[14986,0.45],[14988,0.5],[14990,0.46],[14991,0.44],[14993,0.47],[14995,0.41]
];
var hetHolstein = [
[14165,0.09],[14168,0.085],[14171,0.08],[14174,0.1],[14177,0.14],[14180,0.19],[14183,0.215],[14186,0.2],[14189,0.195],[14192,0.21],[14195,0.2],[14198,0.195],[14201,0.19],[14204,0.195],[14207,0.185],[14210,0.19],[14213,0.18],[14216,0.185],[14219,0.19],[14222,0.18],[14225,0.185],[14228,0.19],[14231,0.195],[14234,0.19],[14237,0.2],[14239,0.19],
[14241,0.08],[14243,0.025],[14246,0.015],[14249,0.01],[14252,0.02],[14255,0.04],[14258,0.05],[14261,0.045],[14264,0.05],[14267,0.055],[14270,0.05],[14273,0.055],[14276,0.06],[14279,0.055],[14282,0.06],[14285,0.065],[14288,0.06],[14291,0.065],[14294,0.06],[14297,0.068],[14300,0.062],[14303,0.07],[14306,0.065],
[14309,0.06],[14312,0.055],[14315,0.05],[14318,0.045],[14321,0.04],[14324,0.035],[14327,0.03],[14330,0.035],[14333,0.03],[14336,0.028],[14339,0.032],[14342,0.035],[14345,0.04],[14348,0.038],[14351,0.035],[14354,0.04],[14357,0.035],[14360,0.042],[14363,0.044],[14366,0.04],[14369,0.045],[14372,0.048],[14375,0.05],
[14378,0.045],[14381,0.05],[14384,0.055],[14387,0.048],[14390,0.045],[14393,0.05],[14396,0.042],[14399,0.04],[14402,0.045],[14405,0.04],[14408,0.038],[14411,0.042],[14414,0.045],[14417,0.04],[14420,0.044],[14423,0.05],[14426,0.048],[14429,0.052],[14432,0.055],[14435,0.058],[14438,0.052],[14441,0.05],[14444,0.048],
[14447,0.05],[14450,0.045],[14453,0.05],[14456,0.055],[14459,0.058],[14462,0.06],[14465,0.055],[14468,0.048],[14471,0.04],[14474,0.035],[14477,0.032],[14480,0.038],[14483,0.042],[14486,0.045],[14489,0.048],[14492,0.045],[14495,0.05],[14498,0.048],[14501,0.045],[14504,0.048],[14507,0.044],[14510,0.046],[14513,0.042],
[14516,0.045],[14519,0.04],[14522,0.042],[14525,0.038],[14528,0.035],[14531,0.03],[14534,0.02],[14536,0.01],[14538,0.003],[14541,0.008],[14544,0.015],[14547,0.012],[14550,0.02],[14553,0.028],[14556,0.035],[14559,0.045],[14562,0.05],[14565,0.055],[14568,0.062],[14571,0.07],[14574,0.085],[14577,0.092],[14580,0.088],
[14583,0.082],[14586,0.078],[14589,0.077],[14592,0.075],[14595,0.072],[14598,0.075],[14601,0.07],[14604,0.072],[14607,0.066],[14610,0.065],[14613,0.062],[14616,0.065],[14619,0.07],[14622,0.075],[14625,0.082],[14628,0.088],[14631,0.092],[14634,0.098],[14637,0.1],[14640,0.103],[14643,0.106],[14646,0.104],[14649,0.1],
[14652,0.098],[14655,0.094],[14658,0.09],[14661,0.085],[14664,0.08],[14667,0.075],[14670,0.07],[14673,0.068],[14676,0.062],[14679,0.058],[14682,0.055],[14685,0.052],[14688,0.05],[14691,0.05],[14694,0.048],[14697,0.05],[14700,0.047],[14703,0.048],[14706,0.045],[14709,0.047],[14712,0.046],[14715,0.045],[14718,0.047],
[14721,0.044],[14724,0.046],[14727,0.045],[14730,0.044],[14733,0.046],[14736,0.045],[14739,0.044],[14742,0.046],[14745,0.044],[14748,0.045],[14751,0.05],[14754,0.055],[14757,0.06],[14760,0.058],[14763,0.062],[14766,0.06],[14769,0.062],[14772,0.058],[14775,0.052],[14778,0.05],[14781,0.048],[14784,0.045],[14787,0.044],
[14790,0.04],[14793,0.038],[14796,0.035],[14799,0.032],[14802,0.03],[14805,0.032],[14808,0.028],[14811,0.03],[14814,0.028],[14817,0.032],[14820,0.03],[14823,0.028],[14826,0.026],[14829,0.03],[14832,0.028],[14835,0.026],[14838,0.028],[14841,0.03],[14844,0.032],[14847,0.03],[14850,0.034],[14853,0.036],[14856,0.04],
[14859,0.042],[14862,0.045],[14865,0.043],[14868,0.046],[14871,0.044],[14874,0.048],[14877,0.046],[14880,0.049],[14883,0.055],[14886,0.07],[14889,0.095],[14892,0.125],[14895,0.17],[14898,0.22],[14901,0.27],[14903,0.29],[14905,0.285],[14908,0.265],[14911,0.245],[14914,0.23],[14917,0.21],[14920,0.19],[14923,0.175],
[14926,0.165],[14929,0.155],[14932,0.15],[14935,0.148],[14938,0.146],[14941,0.15],[14944,0.155],[14947,0.152],[14950,0.155],[14953,0.148],[14956,0.145],[14959,0.142],[14962,0.14],[14965,0.145],[14968,0.15],[14971,0.155],[14974,0.15],[14977,0.14],[14980,0.13],[14982,0.15],[14984,0.22],[14986,0.3],[14988,0.37],
[14990,0.385],[14992,0.39],[14993,0.36],[14995,0.325]
];
var hetFleckvieh = [
[14165,0.15],[14168,0.145],[14171,0.14],[14174,0.155],[14177,0.165],[14180,0.18],[14183,0.16],[14186,0.14],[14189,0.15],[14192,0.165],[14195,0.155],[14198,0.17],[14200,0.22],[14202,0.33],[14204,0.39],[14207,0.41],[14210,0.395],[14213,0.415],[14216,0.4],[14219,0.42],[14222,0.405],[14225,0.39],[14228,0.41],[14231,0.4],
[14234,0.405],[14237,0.39],[14239,0.37],[14241,0.15],[14243,0.08],[14246,0.07],[14249,0.075],[14252,0.08],[14255,0.085],[14258,0.08],[14261,0.078],[14264,0.085],[14267,0.082],[14270,0.08],[14273,0.085],[14276,0.08],[14279,0.085],[14282,0.09],[14285,0.095],[14288,0.1],[14291,0.12],[14294,0.13],[14297,0.14],
[14300,0.145],[14303,0.135],[14306,0.13],[14309,0.14],[14312,0.15],[14315,0.16],[14318,0.17],[14321,0.185],[14324,0.195],[14327,0.205],[14330,0.215],[14333,0.22],[14336,0.228],[14339,0.232],[14342,0.235],[14345,0.23],[14348,0.225],[14351,0.21],[14354,0.195],[14357,0.175],[14360,0.16],[14363,0.15],[14366,0.155],
[14369,0.15],[14372,0.145],[14375,0.14],[14378,0.13],[14381,0.125],[14384,0.135],[14387,0.15],[14390,0.16],[14393,0.17],[14396,0.18],[14399,0.175],[14402,0.17],[14405,0.16],[14408,0.15],[14411,0.145],[14414,0.14],[14417,0.145],[14420,0.14],[14423,0.145],[14426,0.14],[14429,0.135],[14432,0.145],[14435,0.155],
[14438,0.16],[14441,0.155],[14444,0.165],[14447,0.17],[14450,0.16],[14453,0.15],[14456,0.145],[14459,0.14],[14462,0.14],[14465,0.135],[14468,0.13],[14471,0.135],[14474,0.13],[14477,0.14],[14480,0.15],[14483,0.16],[14486,0.17],[14489,0.18],[14492,0.19],[14495,0.195],[14498,0.2],[14501,0.2],[14504,0.205],[14507,0.21],
[14510,0.21],[14513,0.215],[14516,0.22],[14519,0.23],[14522,0.24],[14525,0.25],[14528,0.26],[14531,0.27],[14534,0.3],[14536,0.325],[14538,0.335],[14541,0.32],[14544,0.31],[14547,0.305],[14550,0.3],[14553,0.295],[14556,0.29],[14559,0.285],[14562,0.285],[14565,0.28],[14568,0.27],[14571,0.25],[14574,0.23],[14577,0.215],
[14580,0.205],[14583,0.2],[14586,0.195],[14589,0.19],[14592,0.192],[14595,0.19],[14598,0.188],[14601,0.185],[14604,0.18],[14607,0.178],[14610,0.175],[14613,0.17],[14616,0.165],[14619,0.16],[14622,0.152],[14625,0.155],[14628,0.165],[14631,0.18],[14634,0.19],[14637,0.195],[14640,0.2],[14643,0.205],[14646,0.21],
[14649,0.19],[14652,0.17],[14655,0.15],[14658,0.135],[14661,0.125],[14664,0.115],[14667,0.105],[14670,0.09],[14673,0.075],[14676,0.06],[14679,0.05],[14682,0.042],[14685,0.036],[14688,0.033],[14691,0.03],[14694,0.03],[14697,0.028],[14700,0.03],[14705,0.03],[14710,0.028],[14715,0.032],[14720,0.03],[14725,0.032],
[14730,0.03],[14735,0.032],[14740,0.033],[14745,0.032],[14750,0.035],[14753,0.04],[14756,0.045],[14759,0.05],[14762,0.058],[14765,0.065],[14768,0.072],[14771,0.078],[14774,0.082],[14777,0.088],[14780,0.09],[14783,0.095],[14786,0.1],[14789,0.098],[14792,0.095],[14795,0.092],[14798,0.095],[14801,0.09],[14804,0.092],
[14807,0.095],[14810,0.098],[14813,0.095],[14816,0.092],[14819,0.09],[14822,0.094],[14825,0.09],[14828,0.088],[14831,0.092],[14834,0.095],[14837,0.093],[14840,0.09],[14843,0.092],[14846,0.095],[14849,0.098],[14852,0.1],[14855,0.097],[14858,0.092],[14861,0.09],[14864,0.088],[14867,0.085],[14870,0.087],[14873,0.09],
[14876,0.088],[14879,0.09],[14882,0.092],[14885,0.095],[14888,0.1],[14891,0.105],[14894,0.11],[14897,0.115],[14900,0.118],[14903,0.11],[14906,0.1],[14909,0.09],[14912,0.085],[14915,0.08],[14918,0.082],[14921,0.088],[14924,0.095],[14927,0.1],[14930,0.105],[14933,0.109],[14936,0.115],[14939,0.12],[14942,0.125],
[14945,0.13],[14948,0.133],[14951,0.136],[14954,0.14],[14957,0.145],[14960,0.148],[14963,0.152],[14966,0.155],[14969,0.16],[14972,0.165],[14975,0.17],[14978,0.178],[14981,0.185],[14983,0.19],[14985,0.2],[14987,0.225],[14989,0.247],[14991,0.24],[14993,0.22],[14995,0.195]
];
var hetAngus = [
[14165,0.14],[14168,0.15],[14171,0.16],[14174,0.14],[14177,0.13],[14180,0.15],[14183,0.165],[14186,0.17],[14189,0.16],[14192,0.15],[14195,0.175],[14198,0.165],[14201,0.15],[14204,0.13],[14207,0.11],[14210,0.1],[14213,0.115],[14216,0.125],[14219,0.11],[14222,0.115],[14225,0.13],[14228,0.12],[14231,0.125],[14234,0.135],
[14237,0.14],[14239,0.15],[14241,0.3],[14243,0.365],[14246,0.355],[14249,0.35],[14252,0.345],[14255,0.34],[14258,0.335],[14261,0.33],[14264,0.335],[14267,0.34],[14270,0.325],[14273,0.31],[14276,0.3],[14279,0.29],[14282,0.315],[14284,0.32],[14287,0.28],[14290,0.26],[14293,0.255],[14296,0.25],[14299,0.252],
[14302,0.25],[14305,0.26],[14308,0.27],[14311,0.255],[14314,0.24],[14317,0.23],[14320,0.22],[14323,0.2],[14326,0.18],[14329,0.165],[14332,0.14],[14335,0.125],[14338,0.115],[14341,0.105],[14344,0.095],[14347,0.09],[14350,0.088],[14353,0.09],[14356,0.13],[14359,0.2],[14362,0.3],[14365,0.37],[14367,0.365],[14370,0.35],
[14373,0.335],[14376,0.32],[14379,0.31],[14382,0.295],[14385,0.275],[14388,0.255],[14391,0.24],[14394,0.22],[14397,0.2],[14400,0.185],[14403,0.17],[14406,0.16],[14409,0.15],[14412,0.135],[14415,0.125],[14418,0.115],[14421,0.11],[14424,0.1],[14427,0.095],[14430,0.088],[14433,0.1],[14436,0.12],[14439,0.135],
[14442,0.12],[14445,0.09],[14448,0.067],[14451,0.09],[14454,0.11],[14457,0.125],[14460,0.12],[14463,0.11],[14466,0.105],[14469,0.1],[14472,0.095],[14475,0.1],[14478,0.11],[14481,0.125],[14484,0.14],[14487,0.15],[14490,0.16],[14493,0.17],[14496,0.18],[14499,0.2],[14502,0.23],[14505,0.29],[14508,0.34],[14511,0.37],
[14513,0.36],[14516,0.32],[14519,0.285],[14522,0.25],[14525,0.2],[14528,0.16],[14531,0.115],[14534,0.07],[14537,0.045],[14539,0.04],[14542,0.055],[14545,0.07],[14548,0.09],[14551,0.11],[14554,0.13],[14557,0.15],[14560,0.165],[14563,0.18],[14566,0.19],[14569,0.2],[14572,0.21],[14575,0.22],[14578,0.228],[14581,0.232],
[14584,0.236],[14587,0.24],[14590,0.245],[14593,0.25],[14596,0.258],[14599,0.265],[14602,0.27],[14605,0.278],[14608,0.282],[14611,0.288],[14614,0.29],[14617,0.293],[14620,0.29],[14623,0.283],[14626,0.275],[14629,0.26],[14632,0.245],[14635,0.225],[14638,0.205],[14641,0.19],[14644,0.18],[14647,0.16],[14650,0.14],
[14653,0.125],[14656,0.11],[14659,0.095],[14662,0.08],[14665,0.065],[14668,0.055],[14671,0.045],[14674,0.032],[14677,0.024],[14680,0.018],[14683,0.012],[14686,0.008],[14689,0.004],[14692,0.003],[14696,0.005],[14700,0.004],[14704,0.006],[14708,0.005],[14712,0.007],[14716,0.012],[14719,0.018],[14722,0.02],
[14726,0.021],[14730,0.02],[14734,0.022],[14738,0.02],[14742,0.021],[14746,0.02],[14750,0.022],[14754,0.02],[14758,0.022],[14761,0.03],[14764,0.04],[14767,0.048],[14770,0.052],[14773,0.05],[14776,0.046],[14779,0.044],[14782,0.04],[14785,0.042],[14788,0.038],[14791,0.036],[14794,0.04],[14797,0.038],[14800,0.035],
[14803,0.04],[14806,0.042],[14809,0.04],[14812,0.038],[14815,0.042],[14818,0.04],[14821,0.043],[14824,0.045],[14827,0.042],[14830,0.045],[14833,0.048],[14836,0.05],[14839,0.052],[14842,0.055],[14845,0.06],[14848,0.065],[14851,0.07],[14854,0.075],[14857,0.08],[14860,0.082],[14863,0.085],[14866,0.08],[14869,0.07],
[14872,0.065],[14875,0.07],[14878,0.08],[14881,0.09],[14884,0.11],[14887,0.14],[14890,0.18],[14893,0.22],[14896,0.25],[14899,0.27],[14902,0.28],[14904,0.275],[14907,0.25],[14910,0.22],[14913,0.19],[14916,0.16],[14919,0.135],[14922,0.115],[14925,0.1],[14928,0.098],[14931,0.1],[14934,0.105],[14937,0.11],[14940,0.115],
[14943,0.12],[14946,0.118],[14949,0.122],[14952,0.125],[14955,0.128],[14958,0.13],[14961,0.135],[14964,0.14],[14967,0.138],[14970,0.132],[14973,0.128],[14976,0.13],[14979,0.145],[14981,0.18],[14983,0.22],[14985,0.24],[14987,0.19],[14989,0.1],[14990,0.04],[14991,0.03],[14993,0.045],[14995,0.07]
];
var hetSeries = [hetJersey, hetHolstein, hetFleckvieh, hetAngus];

var police = "'Liberation Sans', Arial, Helvetica, sans-serif";
var tailleAxe = 9.4;

var svg = d3.select("#figure").append("svg")
    .attr("width", 652)
    .attr("height", 911)
    .style("display", "block");

var x = d3.scaleLinear().domain([14200, 15000]).range([83.5, 556.5]);
var axeGauche = 63;
var centre = 350;

var panneaux = [
    {titre: titres[0], bas: 240, y: d3.scaleLinear().domain([2, 6]).range([220.4, 130]),
     ticks: hapTicks, fmt: d3.format("d"), haut: 6, finAxe: 240, ylab: "hapFLK"},
    {titre: titres[1], bas: 551.7, y: d3.scaleLinear().domain([0, 5]).range([543.3, 391.7]),
     ticks: pvalTicks, fmt: d3.format("d"), haut: 5, finAxe: null, ylab: "-log10(p-value)"},
    {titre: titres[2], bas: 860, y: d3.scaleLinear().domain([0, 0.5]).range([852.7, 671.7]),
     ticks: hetTicks, fmt: d3.format(".1f"), haut: 0.5, finAxe: null, ylab: null}
];

panneaux.forEach(function(p){
    var g = svg.append("g");

    g.append("text")
        .attr("x", centre)
        .attr("y", p.bas - 213.5)
        .attr("text-anchor", "middle")
        .attr("font-family", police)
        .attr("font-size", 18)
        .attr("font-weight", "bold")
        .text(p.titre);

    var gx = g.append("g")
        .attr("transform", "translate(0," + p.bas + ")")
        .call(d3.axisBottom(x).tickValues(positionTicks).tickSize(6.5).tickSizeOuter(0)
            .tickPadding(10.2).tickFormat(d3.format("d")));
    gx.attr("font-family", police).attr("font-size", tailleAxe);
    gx.selectAll("path, line").attr("stroke-width", 1.5);

    g.append("text")
        .attr("x", centre)
        .attr("y", p.bas + 48.3)
        .attr("text-anchor", "middle")
        .attr("font-family", police)
        .attr("font-size", tailleAxe)
        .text("Position (Kbp)");

    var gy = g.append("g")
        .attr("transform", "translate(" + axeGauche + ",0)")
        .call(d3.axisLeft(p.y).tickValues(p.ticks).tickSize(6.5).tickSizeOuter(0).tickFormat(p.fmt));
    gy.select(".domain").remove();
    gy.append("line")
        .attr("y1", p.y(p.haut))
        .attr("y2", p.finAxe || p.y(0))
        .attr("stroke", "#000");
    gy.attr("font-family", police).attr("font-size", tailleAxe);
    gy.selectAll("line").attr("stroke-width", 1.5);
    gy.selectAll(".tick text")
        .attr("x", 0)
        .attr("dy", 0)
        .attr("text-anchor", "middle")
        .attr("transform", "translate(-16.5,0) rotate(-90)");

    if(p.ylab){
        g.append("text")
            .attr("transform", "translate(24," + (p.bas - 98.5) + ") rotate(-90)")
            .attr("text-anchor", "middle")
            .attr("font-family", police)
            .attr("font-size", tailleAxe)
            .text(p.ylab);
    }
});

// panneau 1 : hapFLK
var y1 = panneaux[0].y;
var cote = 6;
svg.append("path")
    .datum(hapflk)
    .attr("fill", "none")
    .attr("stroke", "#b4b4b4")
    .attr("stroke-width", 1)
    .attr("d", d3.line().x(function(d){ return x(d[0]); }).y(function(d){ return y1(d[1]); }));
svg.append("g").selectAll("rect")
    .data(hapflk)
    .enter()
    .append("rect")
    .attr("x", function(d){ return x(d[0]) - cote / 2; })
    .attr("y", function(d){ return y1(d[1]) - cote / 2; })
    .attr("width", cote)
    .attr("height", cote)
    .attr("fill", "#000");

function entourer(px, py){
    svg.append("circle")
        .attr("cx", px).attr("cy", py).attr("r", 5)
        .attr("fill", "#858585")
        .attr("stroke", "#3a3a3a")
        .attr("stroke-width", 1.4);
    svg.append("rect")
        .attr("x", px - 1.5).attr("y", py - 1.5)
        .attr("width", 3).attr("height", 3)
        .attr("fill", "#111");
}
var picHap = hapflk.find(function(d){ return d[0] === picPos; });
entourer(x(picHap[0]), y1(picHap[1]));

// panneau 2 : simple marqueur
var y2 = panneaux[1].y;
var cote2 = 4.8;
svg.append("g").selectAll("rect")
    .data(marqueurs)
    .enter()
    .append("rect")
    .attr("x", function(d){ return x(d[0]) - cote2 / 2; })
    .attr("y", function(d){ return y2(d[1]) - cote2 / 2; })
    .attr("width", cote2)
    .attr("height", cote2)
    .attr("fill", "#000");
var picSnp = marqueurs.find(function(d){ return d[0] === picPos; });
entourer(x(picSnp[0]), y2(picSnp[1]));

// panneau 3 : heterozygotie
var y3 = panneaux[2].y;
var ligneHet = d3.line().x(function(d){ return x(d[0]); }).y(function(d){ return y3(d[1]); });
var ordre = [0, 3, 2, 1];
ordre.forEach(function(i){
    svg.append("path")
        .datum(hetSeries[i])
        .attr("fill", "none")
        .attr("stroke", couleurs[i])
        .attr("stroke-width", 2.6)
        .attr("stroke-linejoin", "round")
        .attr("d", ligneHet);
});

svg.append("line")
    .attr("x1", x(picPos)).attr("x2", x(picPos))
    .attr("y1", y3(0.52)).attr("y2", panneaux[2].bas)
    .attr("stroke", "#000")
    .attr("stroke-width", 2);

svg.append("clipPath").attr("id", "coupe")
    .append("rect").attr("x", 0).attr("y", 0).attr("width", 635).attr("height", 911);

svg.append("g")
    .attr("clip-path", "url(#coupe)")
    .selectAll("text")
    .data(races)
    .enter()
    .append("text")
    .attr("x", x(15000) + 6.5)
    .attr("y", function(d, i){ var s = hetSeries[i]; return y3(s[s.length - 1][1]); })
    .attr("dy", "0.36em")
    .attr("font-family", police)
    .attr("font-size", 19)
    .attr("fill", function(d, i){ return couleurs[i]; })
    .text(function(d){ return d; });
</script>
</body>
</html>
